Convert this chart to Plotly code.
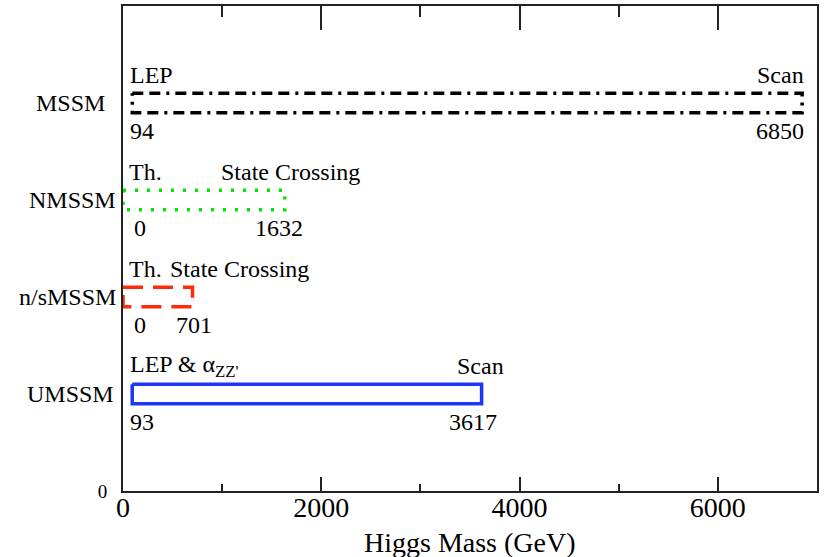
import plotly.graph_objects as go

# Higgs mass ranges allowed in each supersymmetric model (GeV)
models = ["MSSM", "NMSSM", "n/sMSSM", "UMSSM"]
lower_bound = [94, 0, 0, 93]
upper_bound = [6850, 1632, 701, 3617]
lower_source = ["LEP", "Th.", "Th.", "LEP &amp; α<sub>ZZ'</sub>"]
upper_source = ["Scan", "State Crossing", "State Crossing", "Scan"]

x_ticks = [0, 2000, 4000, 6000]
x_minor = [1000, 3000, 5000]
x_title = "Higgs Mass (GeV)"

# --- styling -------------------------------------------------------------
FONT = "Liberation Serif"
box_colors = ["#000000", "#00e600", "#ff2a0a", "#1c37f5"]
box_dash = ["11px,6px,11px,6px,3px,6px", "3px,9px", "20px,10px", "solid"]
BOX_HALF = 0.1          # half height of each range box (y units)
TEXT_GAP = 28           # px between box centre and the labels above/below

# horizontal nudges (px) for each model's labels:
# (low source, low value, high source, high value)
label_nudge = [
    (-4, -4, 4, 4),
    (4, 9, 77, 20),
    (4, 9, 118, 21),
    (-4, -4, 24, 17),
]
# right edge of the model names, px left of the y axis
name_offset = [-16, -5, -5, -7]

fig = go.Figure()
n = len(models)
annotations = []
for i, name in enumerate(models):
    yc = n - i
    lo, hi = lower_bound[i], upper_bound[i]
    fig.add_trace(go.Scatter(
        x=[lo, hi, hi, lo, lo],
        y=[yc + BOX_HALF, yc + BOX_HALF, yc - BOX_HALF, yc - BOX_HALF, yc + BOX_HALF],
        mode="lines",
        line=dict(color=box_colors[i], width=3.5, dash=box_dash[i]),
        hoverinfo="skip",
        showlegend=False,
    ))
    d_ls, d_lv, d_hs, d_hv = label_nudge[i]
    common = dict(xref="x", yref="y", showarrow=False, yanchor="middle",
                  font=dict(family=FONT, size=24, color="black"))
    annotations += [
        dict(x=lo, y=yc, text=lower_source[i], xanchor="left",
             xshift=d_ls, yshift=TEXT_GAP, **common),
        dict(x=lo, y=yc, text=str(lo), xanchor="left",
             xshift=d_lv, yshift=-TEXT_GAP, **common),
        dict(x=hi, y=yc, text=upper_source[i], xanchor="right",
             xshift=d_hs, yshift=TEXT_GAP, **common),
        dict(x=hi, y=yc, text=str(hi), xanchor="right",
             xshift=d_hv, yshift=-TEXT_GAP, **common),
        dict(x=0, xref="paper", y=yc, yref="y", text=name, xanchor="right",
             xshift=name_offset[i], showarrow=False, yanchor="middle",
             font=dict(family=FONT, size=24, color="black")),
    ]

# x-axis title, set just under the tick labels
annotations.append(dict(
    x=0.5, xref="paper", y=0, yref="paper", text=x_title,
    xanchor="center", yanchor="top", yshift=-34, showarrow=False,
    font=dict(family=FONT, size=28, color="black"),
))

# invisible trace that carries the top (mirror) axis
fig.add_trace(go.Scatter(x=[0, 7000], y=[0, 0], xaxis="x2", mode="lines",
                         line=dict(width=0), hoverinfo="skip", showlegend=False))

axis_line = dict(showline=True, linecolor="#222222", linewidth=2,
                 showgrid=False, zeroline=False)

fig.update_layout(
    width=830, height=557,
    margin=dict(l=123, r=13, t=6, b=66),
    paper_bgcolor="white", plot_bgcolor="white",
    font=dict(family=FONT, color="black"),
    annotations=annotations,
    xaxis=dict(
        range=[0, 7000], tickvals=x_ticks, ticktext=[str(v) for v in x_ticks],
        ticks="inside", ticklen=14, tickwidth=1.5, tickcolor="#222222",
        minor=dict(tickvals=x_minor, ticks="inside", ticklen=7,
                   tickwidth=1.5, tickcolor="#222222"),
        tickfont=dict(family=FONT, size=28, color="black"),
        ticklabelstandoff=-10,
        **axis_line,
    ),
    xaxis2=dict(
        overlaying="x", side="top", range=[0, 7000], tickvals=x_ticks,
        showticklabels=False, ticks="inside", ticklen=24, tickwidth=1.5,
        tickcolor="#222222",
        minor=dict(tickvals=x_minor, ticks="inside", ticklen=11,
                   tickwidth=1.5, tickcolor="#222222"),
        **axis_line,
    ),
    yaxis=dict(
        range=[0, 5], tickvals=[0], ticktext=["0"], ticks="",
        tickfont=dict(family=FONT, size=19, color="black"),
        ticklabelstandoff=10,
        mirror=True, **axis_line,
    ),
)

fig.write_html("out.html")
